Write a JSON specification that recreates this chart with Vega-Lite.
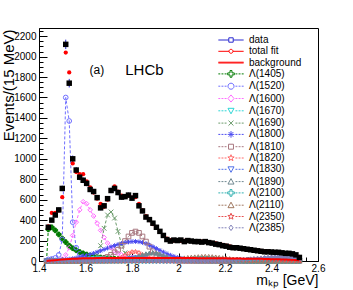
{
 "$schema": "https://vega.github.io/schema/vega-lite/v6.json",
 "width": 279, "height": 233,
 "autosize": {"type": "none"},
 "padding": {"left": 39, "top": 28, "right": 35, "bottom": 29},
 "background": "white",
 "config": {
  "font": "Liberation Sans",
  "view": {"stroke": "#000", "strokeWidth": 1},
  "axis": {"domainColor": "#000", "tickColor": "#000", "labelColor": "#000", "titleColor": "#000", "grid": false, "labelFont": "Liberation Sans", "titleFont": "Liberation Sans", "titleFontWeight": "normal", "labelOverlap": false, "labelBound": false, "labelFlush": false, "labelFontSize": 10}
 },
 "datasets": {
  "obs": [
   {"m":1.44,"d":330,"e":18,"f":340},{"m":1.455,"d":400,"e":20,"f":470},{"m":1.47,"d":450,"e":21,"f":470},{"m":1.485,"d":500,"e":22,"f":495},
   {"m":1.5,"d":710,"e":27,"f":625},{"m":1.515,"d":2120,"e":46,"f":2040},{"m":1.53,"d":1740,"e":42,"f":1845},{"m":1.545,"d":1000,"e":32,"f":955},
   {"m":1.56,"d":890,"e":30,"f":870},{"m":1.575,"d":820,"e":29,"f":850},{"m":1.59,"d":790,"e":28,"f":850},{"m":1.605,"d":760,"e":28,"f":780},
   {"m":1.62,"d":700,"e":26,"f":720},{"m":1.635,"d":680,"e":26,"f":670},{"m":1.65,"d":620,"e":25,"f":610},{"m":1.665,"d":520,"e":23,"f":560},
   {"m":1.68,"d":540,"e":23,"f":530},{"m":1.695,"d":610,"e":25,"f":600},{"m":1.71,"d":690,"e":26,"f":690},{"m":1.725,"d":710,"e":27,"f":730},
   {"m":1.74,"d":670,"e":26,"f":680},{"m":1.755,"d":625,"e":25,"f":640},{"m":1.77,"d":630,"e":25,"f":630},{"m":1.785,"d":645,"e":25,"f":640},
   {"m":1.8,"d":615,"e":25,"f":620},{"m":1.815,"d":640,"e":25,"f":625},{"m":1.83,"d":540,"e":23,"f":560},{"m":1.845,"d":490,"e":22,"f":495},
   {"m":1.86,"d":430,"e":21,"f":440},{"m":1.875,"d":405,"e":20,"f":400},{"m":1.89,"d":370,"e":19,"f":360},{"m":1.905,"d":330,"e":18,"f":325},
   {"m":1.92,"d":290,"e":17,"f":285},{"m":1.935,"d":250,"e":16,"f":250},{"m":1.95,"d":210,"e":14,"f":220},{"m":1.965,"d":195,"e":14,"f":205},
   {"m":1.98,"d":205,"e":14,"f":200},{"m":1.995,"d":200,"e":14,"f":198},{"m":2.01,"d":205,"e":14,"f":198},{"m":2.025,"d":190,"e":14,"f":197},
   {"m":2.04,"d":200,"e":14,"f":196},{"m":2.055,"d":195,"e":14,"f":195},{"m":2.07,"d":190,"e":14,"f":194},{"m":2.085,"d":190,"e":14,"f":192},
   {"m":2.1,"d":185,"e":14,"f":190},{"m":2.115,"d":190,"e":14,"f":187},{"m":2.13,"d":180,"e":13,"f":183},{"m":2.145,"d":175,"e":13,"f":178},
   {"m":2.16,"d":165,"e":13,"f":172},{"m":2.175,"d":160,"e":13,"f":165},{"m":2.19,"d":150,"e":12,"f":158},{"m":2.205,"d":145,"e":12,"f":150},
   {"m":2.22,"d":135,"e":12,"f":143},{"m":2.235,"d":130,"e":11,"f":137},{"m":2.25,"d":130,"e":11,"f":131},{"m":2.265,"d":125,"e":11,"f":126},
   {"m":2.28,"d":120,"e":11,"f":121},{"m":2.295,"d":115,"e":11,"f":116},{"m":2.31,"d":110,"e":10,"f":111},{"m":2.325,"d":105,"e":10,"f":106},
   {"m":2.34,"d":100,"e":10,"f":102},{"m":2.355,"d":95,"e":10,"f":98},{"m":2.37,"d":90,"e":9,"f":94},{"m":2.385,"d":90,"e":9,"f":91},
   {"m":2.4,"d":88,"e":9,"f":88},{"m":2.415,"d":85,"e":9,"f":85},{"m":2.43,"d":85,"e":9,"f":82},{"m":2.445,"d":80,"e":9,"f":79},
   {"m":2.46,"d":75,"e":9,"f":76},{"m":2.475,"d":75,"e":9,"f":72},{"m":2.49,"d":70,"e":8,"f":67},{"m":2.505,"d":60,"e":8,"f":60},
   {"m":2.52,"d":35,"e":6,"f":40}
  ],
  "comp": [
   {"m":1.4325,"L1405":0,"L1520":0,"L1600":0,"L1670":0,"L1690":0,"L1800":0,"L1810":0,"L1820":0,"L1830":0,"L1890":0,"L2100":0,"L2110":0,"L2350":0,"L2385":0,"bg":0},
   {"m":1.44,"L1405":310,"L1520":15,"L1600":2,"L1670":1,"L1690":1,"L1800":3,"L1810":1,"L1820":1,"L1830":1,"L1890":1,"L2100":1,"L2110":1,"L2350":1,"L2385":1,"bg":2},
   {"m":1.455,"L1405":330,"L1520":20,"L1600":4,"L1670":1,"L1690":1,"L1800":5,"L1810":1,"L1820":1,"L1830":1,"L1890":1,"L2100":1,"L2110":1,"L2350":1,"L2385":1,"bg":5},
   {"m":1.47,"L1405":300,"L1520":30,"L1600":6,"L1670":1,"L1690":1,"L1800":7,"L1810":1,"L1820":1,"L1830":1,"L1890":1,"L2100":1,"L2110":1,"L2350":1,"L2385":1,"bg":8},
   {"m":1.485,"L1405":260,"L1520":60,"L1600":10,"L1670":2,"L1690":2,"L1800":9,"L1810":1,"L1820":1,"L1830":1,"L1890":1,"L2100":1,"L2110":1,"L2350":1,"L2385":1,"bg":11},
   {"m":1.5,"L1405":220,"L1520":210,"L1600":20,"L1670":2,"L1690":2,"L1800":12,"L1810":2,"L1820":1,"L1830":1,"L1890":1,"L2100":1,"L2110":1,"L2350":1,"L2385":1,"bg":14},
   {"m":1.515,"L1405":185,"L1520":1600,"L1600":60,"L1670":3,"L1690":2,"L1800":15,"L1810":2,"L1820":1,"L1830":1,"L1890":1,"L2100":1,"L2110":1,"L2350":1,"L2385":1,"bg":17},
   {"m":1.53,"L1405":150,"L1520":1370,"L1600":130,"L1670":4,"L1690":3,"L1800":19,"L1810":2,"L1820":2,"L1830":1,"L1890":1,"L2100":1,"L2110":1,"L2350":1,"L2385":1,"bg":19},
   {"m":1.545,"L1405":125,"L1520":380,"L1600":250,"L1670":5,"L1690":3,"L1800":24,"L1810":3,"L1820":2,"L1830":1,"L1890":1,"L2100":1,"L2110":1,"L2350":1,"L2385":1,"bg":21},
   {"m":1.56,"L1405":105,"L1520":130,"L1600":380,"L1670":7,"L1690":4,"L1800":30,"L1810":3,"L1820":2,"L1830":2,"L1890":1,"L2100":1,"L2110":1,"L2350":1,"L2385":1,"bg":23},
   {"m":1.575,"L1405":88,"L1520":70,"L1600":500,"L1670":9,"L1690":5,"L1800":37,"L1810":4,"L1820":2,"L1830":2,"L1890":2,"L2100":1,"L2110":1,"L2350":1,"L2385":1,"bg":25},
   {"m":1.59,"L1405":75,"L1520":45,"L1600":580,"L1670":12,"L1690":6,"L1800":45,"L1810":5,"L1820":3,"L1830":2,"L1890":2,"L2100":1,"L2110":1,"L2350":1,"L2385":1,"bg":26},
   {"m":1.605,"L1405":63,"L1520":32,"L1600":560,"L1670":16,"L1690":8,"L1800":54,"L1810":6,"L1820":3,"L1830":2,"L1890":2,"L2100":1,"L2110":1,"L2350":1,"L2385":1,"bg":27},
   {"m":1.62,"L1405":54,"L1520":25,"L1600":500,"L1670":20,"L1690":12,"L1800":64,"L1810":7,"L1820":3,"L1830":3,"L1890":2,"L2100":1,"L2110":2,"L2350":1,"L2385":1,"bg":28},
   {"m":1.635,"L1405":46,"L1520":20,"L1600":440,"L1670":24,"L1690":25,"L1800":75,"L1810":8,"L1820":4,"L1830":3,"L1890":2,"L2100":1,"L2110":2,"L2350":1,"L2385":1,"bg":28},
   {"m":1.65,"L1405":40,"L1520":17,"L1600":370,"L1670":26,"L1690":60,"L1800":87,"L1810":10,"L1820":4,"L1830":3,"L1890":3,"L2100":1,"L2110":2,"L2350":1,"L2385":1,"bg":29},
   {"m":1.665,"L1405":34,"L1520":14,"L1600":300,"L1670":25,"L1690":150,"L1800":100,"L1810":15,"L1820":5,"L1830":4,"L1890":3,"L2100":1,"L2110":2,"L2350":1,"L2385":1,"bg":29},
   {"m":1.68,"L1405":30,"L1520":12,"L1600":230,"L1670":22,"L1690":320,"L1800":113,"L1810":25,"L1820":5,"L1830":4,"L1890":3,"L2100":1,"L2110":2,"L2350":1,"L2385":1,"bg":29},
   {"m":1.695,"L1405":26,"L1520":11,"L1600":175,"L1670":18,"L1690":450,"L1800":126,"L1810":40,"L1820":6,"L1830":5,"L1890":4,"L2100":1,"L2110":2,"L2350":1,"L2385":1,"bg":29},
   {"m":1.71,"L1405":23,"L1520":10,"L1600":130,"L1670":14,"L1690":480,"L1800":139,"L1810":60,"L1820":8,"L1830":5,"L1890":4,"L2100":1,"L2110":3,"L2350":1,"L2385":1,"bg":29},
   {"m":1.725,"L1405":20,"L1520":9,"L1600":100,"L1670":11,"L1690":420,"L1800":151,"L1810":85,"L1820":10,"L1830":6,"L1890":4,"L2100":1,"L2110":3,"L2350":1,"L2385":1,"bg":29},
   {"m":1.74,"L1405":18,"L1520":8,"L1600":75,"L1670":9,"L1690":290,"L1800":162,"L1810":110,"L1820":20,"L1830":7,"L1890":5,"L2100":1,"L2110":3,"L2350":1,"L2385":1,"bg":29},
   {"m":1.755,"L1405":16,"L1520":8,"L1600":60,"L1670":7,"L1690":160,"L1800":172,"L1810":150,"L1820":35,"L1830":8,"L1890":8,"L2100":1,"L2110":3,"L2350":1,"L2385":1,"bg":29},
   {"m":1.77,"L1405":15,"L1520":7,"L1600":48,"L1670":6,"L1690":80,"L1800":180,"L1810":195,"L1820":55,"L1830":10,"L1890":12,"L2100":1,"L2110":4,"L2350":1,"L2385":1,"bg":29},
   {"m":1.785,"L1405":14,"L1520":7,"L1600":40,"L1670":5,"L1690":45,"L1800":186,"L1810":240,"L1820":75,"L1830":18,"L1890":18,"L2100":1,"L2110":4,"L2350":1,"L2385":1,"bg":29},
   {"m":1.8,"L1405":13,"L1520":6,"L1600":35,"L1670":4,"L1690":28,"L1800":190,"L1810":275,"L1820":88,"L1830":25,"L1890":26,"L2100":1,"L2110":4,"L2350":1,"L2385":1,"bg":29},
   {"m":1.815,"L1405":12,"L1520":6,"L1600":30,"L1670":4,"L1690":18,"L1800":191,"L1810":288,"L1820":90,"L1830":30,"L1890":36,"L2100":1,"L2110":5,"L2350":1,"L2385":1,"bg":29},
   {"m":1.83,"L1405":11,"L1520":6,"L1600":27,"L1670":3,"L1690":12,"L1800":188,"L1810":275,"L1820":80,"L1830":30,"L1890":48,"L2100":1,"L2110":5,"L2350":1,"L2385":1,"bg":29},
   {"m":1.845,"L1405":10,"L1520":5,"L1600":24,"L1670":3,"L1690":9,"L1800":181,"L1810":240,"L1820":62,"L1830":26,"L1890":60,"L2100":1,"L2110":6,"L2350":1,"L2385":1,"bg":29},
   {"m":1.86,"L1405":9,"L1520":5,"L1600":22,"L1670":3,"L1690":7,"L1800":170,"L1810":190,"L1820":44,"L1830":20,"L1890":70,"L2100":1,"L2110":6,"L2350":1,"L2385":1,"bg":29},
   {"m":1.875,"L1405":9,"L1520":5,"L1600":20,"L1670":3,"L1690":6,"L1800":156,"L1810":140,"L1820":30,"L1830":14,"L1890":78,"L2100":1,"L2110":7,"L2350":1,"L2385":1,"bg":29},
   {"m":1.89,"L1405":8,"L1520":5,"L1600":18,"L1670":3,"L1690":5,"L1800":140,"L1810":95,"L1820":20,"L1830":9,"L1890":80,"L2100":2,"L2110":8,"L2350":1,"L2385":1,"bg":29},
   {"m":1.905,"L1405":8,"L1520":4,"L1600":16,"L1670":3,"L1690":4,"L1800":122,"L1810":60,"L1820":12,"L1830":6,"L1890":77,"L2100":2,"L2110":9,"L2350":1,"L2385":1,"bg":29},
   {"m":1.92,"L1405":7,"L1520":4,"L1600":15,"L1670":3,"L1690":4,"L1800":104,"L1810":38,"L1820":8,"L1830":4,"L1890":68,"L2100":3,"L2110":10,"L2350":1,"L2385":1,"bg":29},
   {"m":1.935,"L1405":7,"L1520":4,"L1600":14,"L1670":3,"L1690":3,"L1800":87,"L1810":24,"L1820":5,"L1830":3,"L1890":56,"L2100":3,"L2110":12,"L2350":1,"L2385":1,"bg":29},
   {"m":1.95,"L1405":6,"L1520":4,"L1600":13,"L1670":3,"L1690":3,"L1800":71,"L1810":15,"L1820":4,"L1830":2,"L1890":43,"L2100":4,"L2110":14,"L2350":1,"L2385":1,"bg":29},
   {"m":1.965,"L1405":6,"L1520":4,"L1600":12,"L1670":3,"L1690":3,"L1800":57,"L1810":10,"L1820":3,"L1830":2,"L1890":31,"L2100":5,"L2110":17,"L2350":1,"L2385":1,"bg":29},
   {"m":1.98,"L1405":6,"L1520":4,"L1600":11,"L1670":3,"L1690":3,"L1800":45,"L1810":7,"L1820":2,"L1830":2,"L1890":22,"L2100":6,"L2110":20,"L2350":1,"L2385":1,"bg":29},
   {"m":1.995,"L1405":5,"L1520":4,"L1600":10,"L1670":3,"L1690":3,"L1800":35,"L1810":5,"L1820":2,"L1830":2,"L1890":15,"L2100":7,"L2110":23,"L2350":1,"L2385":1,"bg":29},
   {"m":2.01,"L1405":5,"L1520":4,"L1600":9,"L1670":3,"L1690":3,"L1800":27,"L1810":4,"L1820":2,"L1830":2,"L1890":10,"L2100":9,"L2110":27,"L2350":1,"L2385":1,"bg":29},
   {"m":2.025,"L1405":5,"L1520":4,"L1600":9,"L1670":3,"L1690":3,"L1800":21,"L1810":3,"L1820":2,"L1830":2,"L1890":7,"L2100":11,"L2110":30,"L2350":1,"L2385":1,"bg":29},
   {"m":2.04,"L1405":5,"L1520":4,"L1600":8,"L1670":2,"L1690":3,"L1800":16,"L1810":3,"L1820":2,"L1830":2,"L1890":5,"L2100":13,"L2110":34,"L2350":1,"L2385":1,"bg":29},
   {"m":2.055,"L1405":4,"L1520":4,"L1600":8,"L1670":2,"L1690":3,"L1800":12,"L1810":3,"L1820":2,"L1830":2,"L1890":4,"L2100":15,"L2110":37,"L2350":1,"L2385":1,"bg":29},
   {"m":2.07,"L1405":4,"L1520":4,"L1600":7,"L1670":2,"L1690":3,"L1800":9,"L1810":3,"L1820":2,"L1830":2,"L1890":3,"L2100":17,"L2110":40,"L2350":1,"L2385":1,"bg":29},
   {"m":2.085,"L1405":4,"L1520":4,"L1600":7,"L1670":2,"L1690":3,"L1800":7,"L1810":3,"L1820":2,"L1830":2,"L1890":2,"L2100":19,"L2110":42,"L2350":1,"L2385":1,"bg":28},
   {"m":2.1,"L1405":4,"L1520":4,"L1600":6,"L1670":2,"L1690":3,"L1800":6,"L1810":3,"L1820":2,"L1830":2,"L1890":2,"L2100":20,"L2110":44,"L2350":1,"L2385":1,"bg":28},
   {"m":2.115,"L1405":4,"L1520":4,"L1600":6,"L1670":2,"L1690":2,"L1800":5,"L1810":3,"L1820":2,"L1830":2,"L1890":2,"L2100":20,"L2110":45,"L2350":2,"L2385":1,"bg":28},
   {"m":2.13,"L1405":4,"L1520":3,"L1600":6,"L1670":2,"L1690":2,"L1800":5,"L1810":3,"L1820":2,"L1830":2,"L1890":2,"L2100":19,"L2110":44,"L2350":2,"L2385":1,"bg":28},
   {"m":2.145,"L1405":3,"L1520":3,"L1600":5,"L1670":2,"L1690":2,"L1800":4,"L1810":3,"L1820":2,"L1830":2,"L1890":2,"L2100":17,"L2110":42,"L2350":3,"L2385":1,"bg":27},
   {"m":2.16,"L1405":3,"L1520":3,"L1600":5,"L1670":2,"L1690":2,"L1800":4,"L1810":3,"L1820":2,"L1830":2,"L1890":2,"L2100":15,"L2110":39,"L2350":3,"L2385":1,"bg":27},
   {"m":2.175,"L1405":3,"L1520":3,"L1600":5,"L1670":2,"L1690":2,"L1800":4,"L1810":3,"L1820":2,"L1830":2,"L1890":2,"L2100":13,"L2110":35,"L2350":4,"L2385":1,"bg":27},
   {"m":2.19,"L1405":3,"L1520":3,"L1600":5,"L1670":2,"L1690":2,"L1800":3,"L1810":2,"L1820":2,"L1830":2,"L1890":2,"L2100":11,"L2110":31,"L2350":4,"L2385":3,"bg":26},
   {"m":2.205,"L1405":3,"L1520":3,"L1600":5,"L1670":2,"L1690":2,"L1800":3,"L1810":2,"L1820":2,"L1830":2,"L1890":2,"L2100":9,"L2110":27,"L2350":5,"L2385":4,"bg":26},
   {"m":2.22,"L1405":3,"L1520":3,"L1600":5,"L1670":2,"L1690":2,"L1800":3,"L1810":2,"L1820":2,"L1830":2,"L1890":2,"L2100":7,"L2110":23,"L2350":6,"L2385":5,"bg":25},
   {"m":2.235,"L1405":3,"L1520":3,"L1600":5,"L1670":2,"L1690":2,"L1800":3,"L1810":2,"L1820":2,"L1830":2,"L1890":2,"L2100":6,"L2110":19,"L2350":7,"L2385":6,"bg":25},
   {"m":2.25,"L1405":3,"L1520":3,"L1600":5,"L1670":2,"L1690":2,"L1800":3,"L1810":2,"L1820":2,"L1830":2,"L1890":2,"L2100":5,"L2110":16,"L2350":8,"L2385":8,"bg":24},
   {"m":2.265,"L1405":3,"L1520":3,"L1600":5,"L1670":2,"L1690":2,"L1800":3,"L1810":2,"L1820":2,"L1830":2,"L1890":2,"L2100":4,"L2110":13,"L2350":9,"L2385":10,"bg":24},
   {"m":2.28,"L1405":2,"L1520":3,"L1600":4,"L1670":2,"L1690":2,"L1800":3,"L1810":2,"L1820":2,"L1830":2,"L1890":2,"L2100":4,"L2110":10,"L2350":10,"L2385":12,"bg":23},
   {"m":2.295,"L1405":2,"L1520":3,"L1600":4,"L1670":2,"L1690":2,"L1800":3,"L1810":2,"L1820":2,"L1830":2,"L1890":2,"L2100":3,"L2110":8,"L2350":11,"L2385":15,"bg":23},
   {"m":2.31,"L1405":2,"L1520":3,"L1600":4,"L1670":2,"L1690":2,"L1800":3,"L1810":2,"L1820":2,"L1830":2,"L1890":2,"L2100":3,"L2110":6,"L2350":12,"L2385":18,"bg":22},
   {"m":2.325,"L1405":2,"L1520":3,"L1600":4,"L1670":2,"L1690":2,"L1800":3,"L1810":2,"L1820":2,"L1830":2,"L1890":2,"L2100":2,"L2110":5,"L2350":13,"L2385":21,"bg":22},
   {"m":2.34,"L1405":2,"L1520":3,"L1600":4,"L1670":2,"L1690":2,"L1800":3,"L1810":2,"L1820":2,"L1830":2,"L1890":2,"L2100":2,"L2110":4,"L2350":14,"L2385":24,"bg":21},
   {"m":2.355,"L1405":2,"L1520":3,"L1600":4,"L1670":2,"L1690":2,"L1800":3,"L1810":2,"L1820":2,"L1830":2,"L1890":2,"L2100":2,"L2110":3,"L2350":14,"L2385":27,"bg":21},
   {"m":2.37,"L1405":2,"L1520":3,"L1600":4,"L1670":2,"L1690":2,"L1800":3,"L1810":2,"L1820":2,"L1830":2,"L1890":2,"L2100":2,"L2110":3,"L2350":14,"L2385":30,"bg":20},
   {"m":2.385,"L1405":2,"L1520":3,"L1600":4,"L1670":2,"L1690":2,"L1800":3,"L1810":2,"L1820":2,"L1830":2,"L1890":2,"L2100":2,"L2110":3,"L2350":13,"L2385":33,"bg":20},
   {"m":2.4,"L1405":2,"L1520":3,"L1600":4,"L1670":2,"L1690":2,"L1800":3,"L1810":2,"L1820":2,"L1830":2,"L1890":2,"L2100":2,"L2110":3,"L2350":12,"L2385":36,"bg":18},
   {"m":2.415,"L1405":2,"L1520":3,"L1600":4,"L1670":2,"L1690":2,"L1800":3,"L1810":2,"L1820":2,"L1830":2,"L1890":2,"L2100":2,"L2110":3,"L2350":11,"L2385":38,"bg":17},
   {"m":2.43,"L1405":2,"L1520":3,"L1600":4,"L1670":2,"L1690":2,"L1800":3,"L1810":2,"L1820":2,"L1830":2,"L1890":2,"L2100":2,"L2110":3,"L2350":10,"L2385":40,"bg":16},
   {"m":2.445,"L1405":2,"L1520":3,"L1600":4,"L1670":2,"L1690":2,"L1800":3,"L1810":2,"L1820":2,"L1830":2,"L1890":2,"L2100":2,"L2110":3,"L2350":9,"L2385":40,"bg":15},
   {"m":2.46,"L1405":2,"L1520":3,"L1600":4,"L1670":2,"L1690":2,"L1800":3,"L1810":2,"L1820":2,"L1830":2,"L1890":2,"L2100":2,"L2110":3,"L2350":8,"L2385":39,"bg":14},
   {"m":2.475,"L1405":2,"L1520":3,"L1600":4,"L1670":2,"L1690":2,"L1800":3,"L1810":2,"L1820":2,"L1830":2,"L1890":2,"L2100":2,"L2110":3,"L2350":7,"L2385":37,"bg":13},
   {"m":2.49,"L1405":2,"L1520":3,"L1600":4,"L1670":2,"L1690":2,"L1800":3,"L1810":2,"L1820":2,"L1830":2,"L1890":2,"L2100":2,"L2110":3,"L2350":6,"L2385":33,"bg":11},
   {"m":2.505,"L1405":2,"L1520":3,"L1600":4,"L1670":2,"L1690":2,"L1800":3,"L1810":2,"L1820":2,"L1830":2,"L1890":2,"L2100":2,"L2110":3,"L2350":5,"L2385":28,"bg":9},
   {"m":2.52,"L1405":2,"L1520":3,"L1600":4,"L1670":2,"L1690":2,"L1800":3,"L1810":2,"L1820":2,"L1830":2,"L1890":2,"L2100":2,"L2110":3,"L2350":4,"L2385":20,"bg":8}
  ],
  "leg": [
   {"entry":"data"},{"entry":"total fit"},{"entry":"background"},{"entry":"Λ(1405)"},{"entry":"Λ(1520)"},{"entry":"Λ(1600)"},
   {"entry":"Λ(1670)"},{"entry":"Λ(1690)"},{"entry":"Λ(1800)"},{"entry":"Λ(1810)"},{"entry":"Λ(1820)"},{"entry":"Λ(1830)"},
   {"entry":"Λ(1890)"},{"entry":"Λ(2100)"},{"entry":"Λ(2110)"},{"entry":"Λ(2350)"},{"entry":"Λ(2385)"}
  ]
 },
 "resolve": {"scale": {"shape": "independent", "stroke": "independent", "fill": "independent"}, "axis": {"x": "independent", "y": "independent"}},
 "layer": [
  {
   "data": {"name": "comp"},
   "transform": [{"fold": ["L1405","L1520","L1600","L1670","L1690","L1800","L1810","L1820","L1830","L1890","L2100","L2110","L2350","L2385"], "as": ["key","val"]}],
   "mark": {"type": "line", "strokeDash": [3,2], "strokeWidth": 1},
   "encoding": {
    "x": {"field": "m", "type": "quantitative", "scale": {"domain": [1.4,2.6], "nice": false, "zero": false},
     "axis": {"orient": "bottom", "values": [1.4,1.6,1.8,2,2.2,2.4,2.6], "format": "~g", "tickSize": -8, "labelPadding": 10, "labelFontSize": 10,
      "labelOverlap": false, "labelFlush": false, "labelBound": false,
      "title": "mₖₚ [GeV]", "titleFontSize": 14, "titleAnchor": "end", "titleAlign": "right", "titleX": 279, "titleY": 23, "titleBaseline": "alphabetic"}},
    "y": {"field": "val", "type": "quantitative", "scale": {"domain": [0,2280], "nice": false},
     "axis": {"orient": "left", "values": [0,200,400,600,800,1000,1200,1400,1600,1800,2000,2200], "format": "d", "tickSize": -8, "labelPadding": 11, "labelFontSize": 10,
      "labelOverlap": false, "labelBound": false,
      "title": "Events/(15 MeV)", "titleFontSize": 15, "titleAnchor": "end", "titleAlign": "right", "titleAngle": 270, "titleX": -26, "titleY": 1, "titleBaseline": "alphabetic"}},
    "stroke": {"field": "key", "type": "nominal", "legend": null,
     "scale": {"domain": ["L1405","L1520","L1600","L1670","L1690","L1800","L1810","L1820","L1830","L1890","L2100","L2110","L2350","L2385"],
      "range": ["#007a00","#6f6fff","#ff6eff","#2ed6d6","#6a9a6a","#4b4bf0","#a87880","#ff6868","#5070e8","#708890","#30b0b0","#a07860","#e85050","#8080b8"]}}
   }
  },
  {
   "data": {"name": "comp"},
   "transform": [{"fold": ["L1405","L1520","L1600","L1670","L1690","L1800","L1810","L1820","L1830","L1890","L2100","L2110","L2350","L2385"], "as": ["key","val"]}],
   "mark": {"type": "point", "size": 22, "strokeWidth": 1, "opacity": 1},
   "encoding": {
    "x": {"field": "m", "type": "quantitative",
     "axis": {"orient": "bottom", "values": [1.45,1.5,1.55,1.65,1.7,1.75,1.85,1.9,1.95,2.05,2.1,2.15,2.25,2.3,2.35,2.45,2.5,2.55], "tickSize": -4, "labels": false, "domain": false, "title": null}},
    "y": {"field": "val", "type": "quantitative",
     "axis": {"orient": "left", "values": [50,100,150,250,300,350,450,500,550,650,700,750,850,900,950,1050,1100,1150,1250,1300,1350,1450,1500,1550,1650,1700,1750,1850,1900,1950,2050,2100,2150,2250], "tickSize": -4, "labels": false, "domain": false, "title": null}},
    "stroke": {"field": "key", "type": "nominal", "legend": null,
     "scale": {"domain": ["L1405","L1520","L1600","L1670","L1690","L1800","L1810","L1820","L1830","L1890","L2100","L2110","L2350","L2385"],
      "range": ["#007a00","#6f6fff","#ff6eff","#2ed6d6","#6a9a6a","#4b4bf0","#a87880","#ff6868","#5070e8","#708890","#30b0b0","#a07860","#e85050","#8080b8"]}},
    "fill": {"field": "key", "type": "nominal", "legend": null,
     "scale": {"domain": ["L1405","L1520","L1600","L1670","L1690","L1800","L1810","L1820","L1830","L1890","L2100","L2110","L2350","L2385"],
      "range": ["#007a00","transparent","transparent","transparent","transparent","transparent","transparent","transparent","#5070e8","#708890","transparent","transparent","#e85050","#8080b8"]}},
    "shape": {"field": "key", "type": "nominal", "legend": null,
     "scale": {"domain": ["L1405","L1520","L1600","L1670","L1690","L1800","L1810","L1820","L1830","L1890","L2100","L2110","L2350","L2385"],
      "range": ["cross","circle","diamond","triangle-down","M-1,-1L1,1M-1,1L1,-1","M-1,0H1M0,-1V1M-0.7,-0.7L0.7,0.7M-0.7,0.7L0.7,-0.7","square",
       "M0,-1L0.245,-0.337L0.951,-0.309L0.397,0.128L0.588,0.809L0,0.417L-0.588,0.809L-0.397,0.128L-0.951,-0.309L-0.245,-0.337Z",
       "triangle-down","triangle-up","M-0.3,-1H0.3V-0.3H1V0.3H0.3V1H-0.3V0.3H-1V-0.3H-0.3Z","triangle-up",
       "M0,-1L0.245,-0.337L0.951,-0.309L0.397,0.128L0.588,0.809L0,0.417L-0.588,0.809L-0.397,0.128L-0.951,-0.309L-0.245,-0.337Z","diamond"]}}
   }
  },
  {
   "data": {"name": "comp"},
   "mark": {"type": "line", "color": "#ff0000", "strokeWidth": 2},
   "encoding": {
    "x": {"field": "m", "type": "quantitative", "axis": null},
    "y": {"field": "bg", "type": "quantitative", "axis": null}
   }
  },
  {
   "data": {"name": "obs"},
   "mark": {"type": "errorbar", "color": "#2a2ad0", "thickness": 1},
   "encoding": {
    "x": {"field": "m", "type": "quantitative", "axis": null},
    "y": {"field": "d", "type": "quantitative", "axis": null},
    "yError": {"field": "e"}
   }
  },
  {
   "data": {"name": "obs"},
   "mark": {"type": "point", "shape": "circle", "filled": true, "color": "#ff0000", "size": 18, "opacity": 1},
   "encoding": {
    "x": {"field": "m", "type": "quantitative", "axis": null},
    "y": {"field": "f", "type": "quantitative", "axis": null}
   }
  },
  {
   "data": {"name": "obs"},
   "mark": {"type": "point", "shape": "square", "filled": true, "color": "#000000", "size": 30, "opacity": 1},
   "encoding": {
    "x": {"field": "m", "type": "quantitative", "axis": null},
    "y": {"field": "d", "type": "quantitative", "axis": null}
   }
  },
  {
   "data": {"values": [{"m": 1.649, "v": 1868, "t": "(a)"}]},
   "mark": {"type": "text", "fontSize": 12, "align": "center", "baseline": "middle", "font": "Liberation Sans", "color": "#000"},
   "encoding": {
    "x": {"field": "m", "type": "quantitative", "axis": null},
    "y": {"field": "v", "type": "quantitative", "axis": null},
    "text": {"field": "t"}
   }
  },
  {
   "data": {"values": [{"m": 1.771, "v": 1868, "t": "LHCb"}]},
   "mark": {"type": "text", "fontSize": 15, "align": "left", "baseline": "middle", "font": "Liberation Sans", "color": "#000"},
   "encoding": {
    "x": {"field": "m", "type": "quantitative", "axis": null},
    "y": {"field": "v", "type": "quantitative", "axis": null},
    "text": {"field": "t"}
   }
  },
  {
   "data": {"name": "leg"},
   "mark": {"type": "point", "opacity": 0},
   "encoding": {
    "shape": {"field": "entry", "type": "nominal",
     "scale": {"domain": ["data","total fit","background","Λ(1405)","Λ(1520)","Λ(1600)","Λ(1670)","Λ(1690)","Λ(1800)","Λ(1810)","Λ(1820)","Λ(1830)","Λ(1890)","Λ(2100)","Λ(2110)","Λ(2350)","Λ(2385)"],
      "range": [
       "M-2.3,0H-0.4M0.4,0H2.3M-0.4,-0.4H0.4V0.4H-0.4Z",
       "M-2.3,0H-0.36M0.36,0H2.3M0.36,0A0.36,0.36 0 1,1 -0.36,0A0.36,0.36 0 1,1 0.36,0Z",
       "M-2.3,-0.07H2.3M-2.3,0.07H2.3",
       "M-2.3,0H-1.95M-1.73,0H-1.38M-1.16,0H-0.81M0.81,0H1.16M1.38,0H1.73M1.95,0H2.3M-0.18,-0.6H0.18V-0.18H0.6V0.18H0.18V0.6H-0.18V0.18H-0.6V-0.18H-0.18Z",
       "M-2.3,0H-1.95M-1.73,0H-1.38M-1.16,0H-0.81M0.81,0H1.16M1.38,0H1.73M1.95,0H2.3M0.55,0A0.55,0.55 0 1,1 -0.55,0A0.55,0.55 0 1,1 0.55,0Z",
       "M-2.3,0H-1.95M-1.73,0H-1.38M-1.16,0H-0.81M0.81,0H1.16M1.38,0H1.73M1.95,0H2.3M0,-0.65L0.55,0L0,0.65L-0.55,0Z",
       "M-2.3,0H-1.95M-1.73,0H-1.38M-1.16,0H-0.81M0.81,0H1.16M1.38,0H1.73M1.95,0H2.3M-0.55,-0.45H0.55L0,0.55Z",
       "M-2.3,0H-1.95M-1.73,0H-1.38M-1.16,0H-0.81M0.81,0H1.16M1.38,0H1.73M1.95,0H2.3M-0.45,-0.45L0.45,0.45M-0.45,0.45L0.45,-0.45",
       "M-2.3,0H-1.95M-1.73,0H-1.38M-1.16,0H-0.81M0.81,0H1.16M1.38,0H1.73M1.95,0H2.3M-0.6,0H0.6M0,-0.6V0.6M-0.42,-0.42L0.42,0.42M-0.42,0.42L0.42,-0.42",
       "M-2.3,0H-1.95M-1.73,0H-1.38M-1.16,0H-0.81M0.81,0H1.16M1.38,0H1.73M1.95,0H2.3M-0.45,-0.45H0.45V0.45H-0.45Z",
       "M-2.3,0H-1.95M-1.73,0H-1.38M-1.16,0H-0.81M0.81,0H1.16M1.38,0H1.73M1.95,0H2.3M0,-0.6L0.147,-0.202L0.571,-0.185L0.238,0.077L0.353,0.485L0,0.25L-0.353,0.485L-0.238,0.077L-0.571,-0.185L-0.147,-0.202Z",
       "M-2.3,0H-1.95M-1.73,0H-1.38M-1.16,0H-0.81M0.81,0H1.16M1.38,0H1.73M1.95,0H2.3M-0.55,-0.45H0.55L0,0.55Z",
       "M-2.3,0H-1.95M-1.73,0H-1.38M-1.16,0H-0.81M0.81,0H1.16M1.38,0H1.73M1.95,0H2.3M-0.55,0.45H0.55L0,-0.55Z",
       "M-2.3,0H-1.95M-1.73,0H-1.38M-1.16,0H-0.81M0.81,0H1.16M1.38,0H1.73M1.95,0H2.3M-0.18,-0.6H0.18V-0.18H0.6V0.18H0.18V0.6H-0.18V0.18H-0.6V-0.18H-0.18Z",
       "M-2.3,0H-1.95M-1.73,0H-1.38M-1.16,0H-0.81M0.81,0H1.16M1.38,0H1.73M1.95,0H2.3M-0.55,0.45H0.55L0,-0.55Z",
       "M-2.3,0H-1.95M-1.73,0H-1.38M-1.16,0H-0.81M0.81,0H1.16M1.38,0H1.73M1.95,0H2.3M0,-0.6L0.147,-0.202L0.571,-0.185L0.238,0.077L0.353,0.485L0,0.25L-0.353,0.485L-0.238,0.077L-0.571,-0.185L-0.147,-0.202Z",
       "M-2.3,0H-1.95M-1.73,0H-1.38M-1.16,0H-0.81M0.81,0H1.16M1.38,0H1.73M1.95,0H2.3M0,-0.5L0.38,0L0,0.5L-0.38,0Z"
      ]},
     "legend": {"title": null, "orient": "none", "legendX": 186, "legendY": 6, "symbolSize": 121, "symbolStrokeWidth": 1, "labelFontSize": 10, "labelFont": "Liberation Sans", "labelColor": "#000", "labelOffset": 12, "rowPadding": 0.3, "padding": 0, "labelBaseline": "middle", "labelLimit": 200}},
    "stroke": {"field": "entry", "type": "nominal",
     "scale": {"domain": ["data","total fit","background","Λ(1405)","Λ(1520)","Λ(1600)","Λ(1670)","Λ(1690)","Λ(1800)","Λ(1810)","Λ(1820)","Λ(1830)","Λ(1890)","Λ(2100)","Λ(2110)","Λ(2350)","Λ(2385)"],
      "range": ["#2a2ad0","#ff0000","#ff0000","#007a00","#6f6fff","#ff6eff","#2ed6d6","#6a9a6a","#4b4bf0","#a87880","#ff6868","#5070e8","#708890","#30b0b0","#a07860","#e85050","#8080b8"]},
     "legend": {"title": null, "orient": "none", "legendX": 186, "legendY": 6, "symbolSize": 121, "symbolStrokeWidth": 1, "labelFontSize": 10, "labelOffset": 12, "rowPadding": 0.3, "padding": 0}},
    "fill": {"field": "entry", "type": "nominal",
     "scale": {"domain": ["data","total fit","background","Λ(1405)","Λ(1520)","Λ(1600)","Λ(1670)","Λ(1690)","Λ(1800)","Λ(1810)","Λ(1820)","Λ(1830)","Λ(1890)","Λ(2100)","Λ(2110)","Λ(2350)","Λ(2385)"],
      "range": ["#000000","#ff0000","transparent","#007a00","transparent","transparent","transparent","transparent","transparent","transparent","transparent","#5070e8","#708890","transparent","transparent","#e85050","#8080b8"]},
     "legend": {"title": null, "orient": "none", "legendX": 186, "legendY": 6, "symbolSize": 121, "symbolStrokeWidth": 1, "labelFontSize": 10, "labelOffset": 12, "rowPadding": 0.3, "padding": 0}}
   }
  }
 ]
}
